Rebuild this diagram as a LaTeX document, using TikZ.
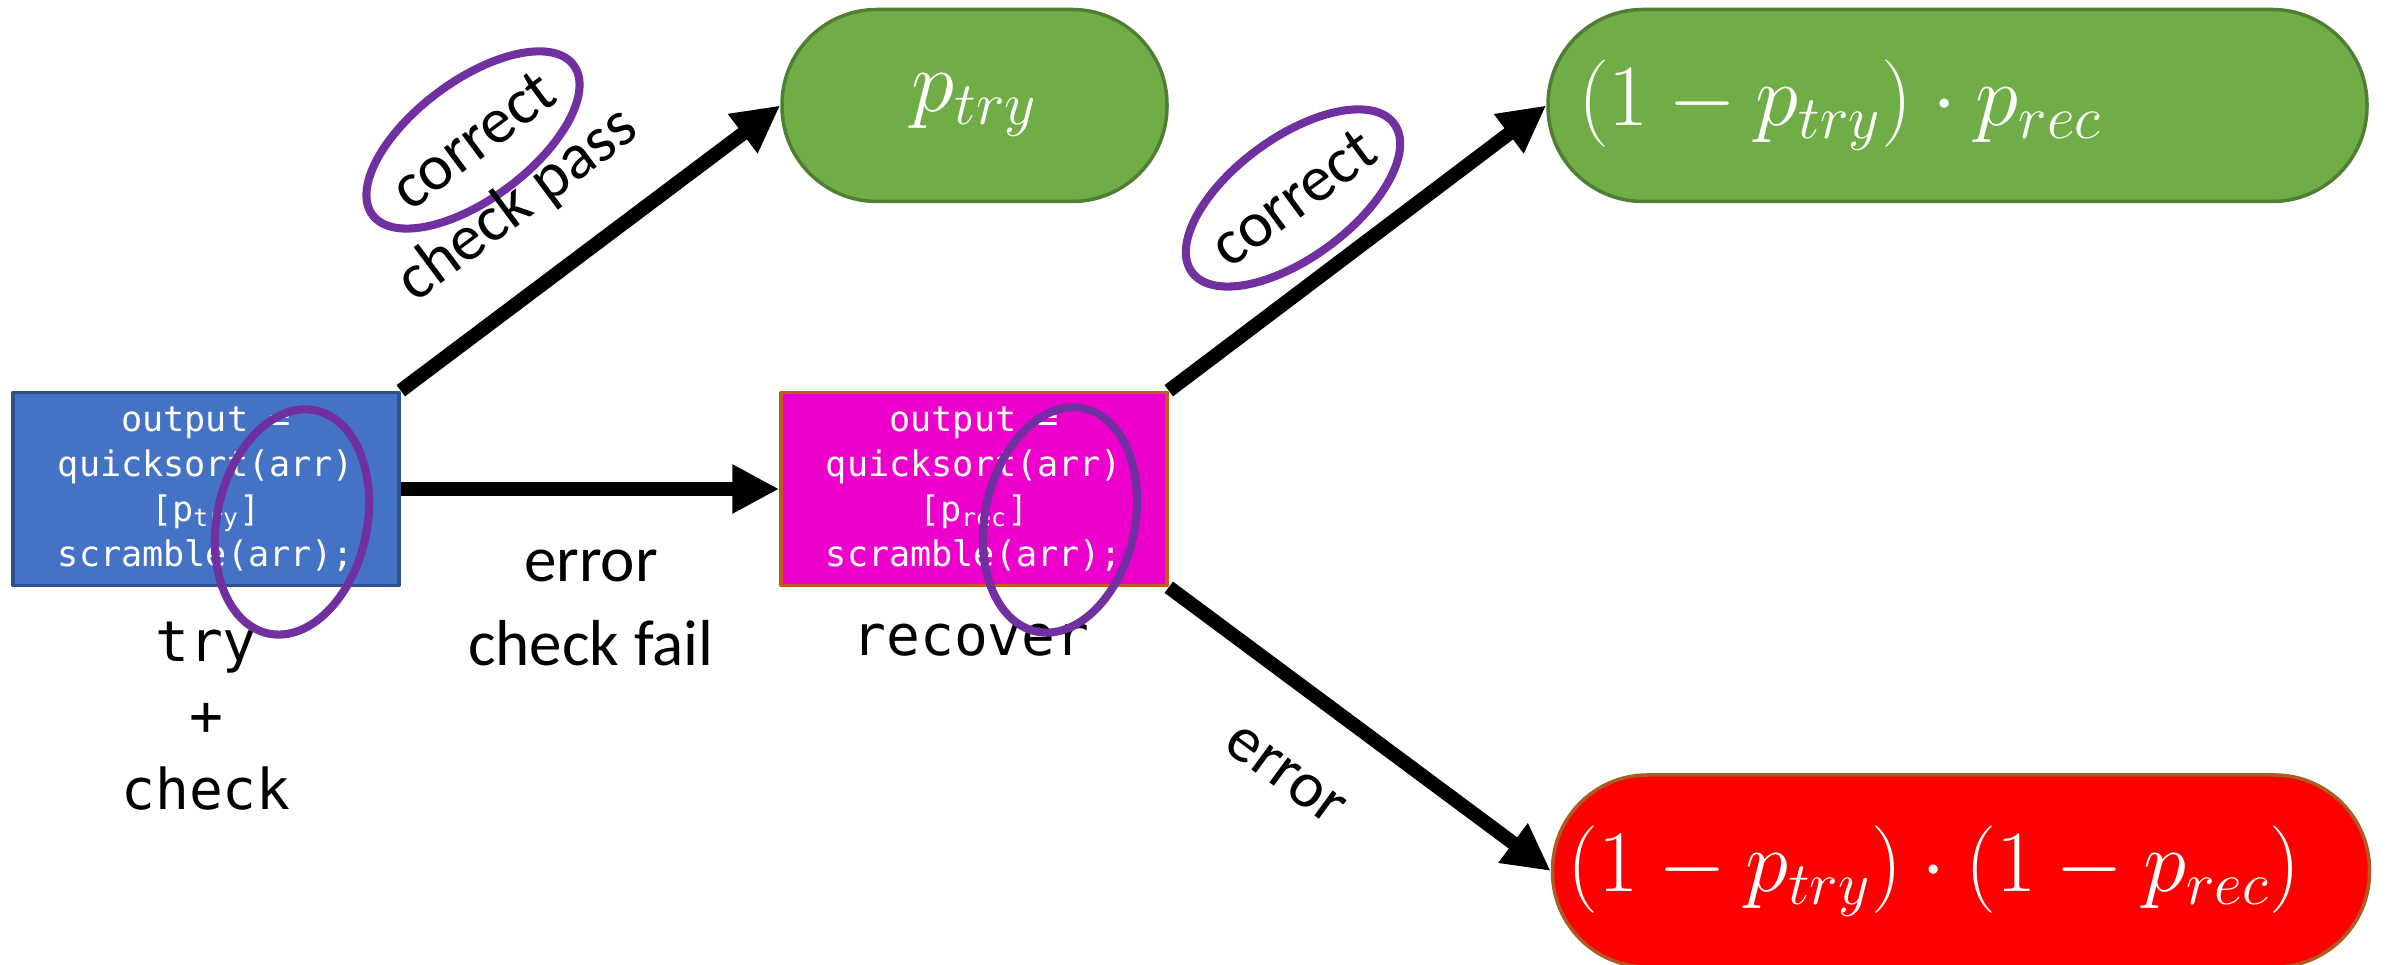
\documentclass[tikz,border=0pt]{standalone}
\usepackage[no-math]{fontspec}
\setmainfont{Carlito}
\setmonofont{DejaVu Sans Mono}
\usetikzlibrary{arrows.meta,positioning,shapes.geometric}

\definecolor{tryblue}{HTML}{4472C4}
\definecolor{tryedge}{HTML}{2F528F}
\definecolor{recpink}{HTML}{EE00CC}
\definecolor{recedge}{HTML}{C55A11}
\definecolor{okgreen}{HTML}{70AD47}
\definecolor{okedge}{HTML}{507E32}
\definecolor{badred}{HTML}{FF0000}
\definecolor{badedge}{HTML}{AE5A21}
\definecolor{ringpurple}{HTML}{7030A0}

\tikzset{
  codebox/.style={draw, line width=1pt, minimum width=3.86cm, minimum height=1.93cm, inner sep=0pt, align=center, text=white, font=\fontsize{10}{12.8}\selectfont\ttfamily},
  outcome/.style={draw, line width=1pt, rounded corners=9.5mm, minimum height=1.92cm, text=white, font=\fontsize{26}{30}\selectfont},
  flow/.style={line width=4pt, -{Triangle[length=4.7mm,width=4.6mm]}},
  ring/.style={draw=ringpurple, line width=2.3pt},
  lbl/.style={font=\fontsize{18.5}{24}\selectfont},
  steplbl/.style={font=\fontsize{16}{21}\selectfont\ttfamily, align=center},
}

\begin{document}
\begin{tikzpicture}[line join=round]
\useasboundingbox (0,0) rectangle (23.87,9.65);

% the two program steps
\node[codebox, fill=tryblue, draw=tryedge] (tryBox) at (2.06,4.76) {output =\\quicksort(arr)\\{[}p\textsubscript{try}]\\scramble(arr);};
\node[codebox, fill=recpink, draw=recedge] (recBox) at (9.74,4.76) {output =\\quicksort(arr)\\{[}p\textsubscript{rec}]\\scramble(arr);};
\node[steplbl] (tryNote) at (2.06,2.49) {try\\+\\check};
\node[steplbl] (recNote) at (9.71,3.25) {recover};

% outcomes
\node[outcome, fill=okgreen, draw=okedge, minimum width=3.85cm] (passNode) at (9.745,8.595) {$p_{try}$};
\node[outcome, fill=okgreen, draw=okedge, text width=7.59cm, inner xsep=3mm, align=left] (recNode) at (19.575,8.595) {$(1-p_{try})\cdot p_{rec}$};
\node[outcome, fill=badred, draw=badedge, text width=7.87cm, inner xsep=1.5mm, align=left] (failNode) at (19.61,0.94) {$(1-p_{try})\cdot(1-p_{rec})$};

% transitions
\draw[flow] (tryBox.north east) -- (passNode.west);
\draw[flow] (tryBox.east) -- (recBox.west);
\draw[flow] (recBox.north east) -- (recNode.west);
\draw[flow] (recBox.south east) -- (failNode.west);

\node[lbl, ellipse, ring, rotate=36.7, inner xsep=-0.5mm, minimum height=1.18cm] (passMark) at (4.73,8.25) {correct};
\node[lbl, rotate=36.7] (passNote) at (5.18,7.60) {check pass};
\node[lbl, align=center] (errNote) at (5.91,3.57) {error\\check fail};
\node[lbl, ellipse, ring, rotate=36.3, inner xsep=-0.5mm, minimum height=1.2cm] (recMark) at (12.93,7.67) {correct};
\node[lbl, rotate=-36.2] (failNote) at (12.85,1.90) {error};

% rings over the scramble lines
\draw[ring, shift={(2.92,4.43)}, rotate=-12] (0,0) ellipse (0.75 and 1.14);
\draw[ring, shift={(10.60,4.45)}, rotate=-12] (0,0) ellipse (0.75 and 1.14);
\end{tikzpicture}
\end{document}
